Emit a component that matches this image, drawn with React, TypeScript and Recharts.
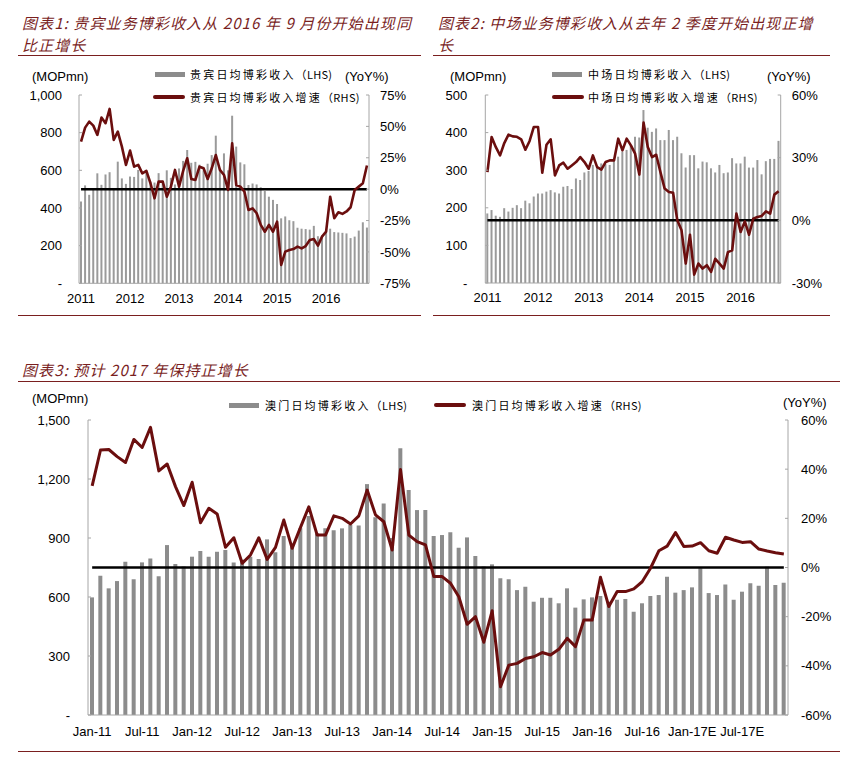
import React from 'react';
import { ComposedChart, Bar, Line, XAxis, YAxis, ReferenceLine } from 'recharts';

const MAROON = '#6b0e0e';
const AXIS_GREY = '#a6a6a6';
const TITLE_RED = '#7a1f1f';
const NUM_FONT = "'Liberation Sans', Arial, sans-serif";
const CJK_FONT = "'Noto Sans CJK SC', sans-serif";

const MON = ['Jan', 'Feb', 'Mar', 'Apr', 'May', 'Jun', 'Jul', 'Aug', 'Sep', 'Oct', 'Nov', 'Dec'];
function monthLabels(count: number) {
  const out: string[] = [];
  for (let i = 0; i < count; i++) {
    const yr = 11 + Math.floor(i / 12);
    out.push(`${MON[i % 12]}-${yr}${yr >= 17 ? 'E' : ''}`);
  }
  return out;
}

// chart 1: VIP daily GGR (MOP mn) and YoY %
const vipMonths = monthLabels(71);
const vipYears = ['2011', '2012', '2013', '2014', '2015', '2016'];
const vipRevenue = [
  434, 520, 470, 505, 584, 523, 578, 590, 505, 646, 557, 528,
  567, 565, 602, 557, 598, 540, 535, 585, 545, 600, 560, 525,
  610, 650, 708, 640, 645, 630, 600, 635, 681, 784, 610, 690,
  600, 890, 726, 642, 632, 522, 530, 525, 510, 490, 460, 443,
  421, 345, 355, 335, 330, 295, 290, 288, 285, 305, 250, 255,
  280, 290, 272, 270, 268, 265, 240, 248, 280, 324, 296,
];
const vipGrowth = [
  37.9, 49, 53.8, 50.6, 43.2, 57, 52.5, 63.9, 39.2, 45.8, 33.9, 19.3,
  30.7, 17.9, 19.3, 12.6, 14.6, 4.7, -7.3, 6, 6, -6, 2, 15.3,
  2, 14.6, 24.6, 8.1, 7.3, 17.9, 16.6, 8.1, 16.6, 27.2, 15.3, 11.3,
  -0.6, 36.5, 3.3, 2, -2, -16.6, -15.3, -19.2, -28.5, -33.9, -28.5, -33.9,
  -25.9, -60.4, -49.8, -48.5, -47.7, -45.8, -47.2, -45.3, -40.5, -39.7, -45, -37.8,
  -33.9, -6, -23.2, -18.4, -19.7, -17.8, -14.4, -0.6, 2, 4.7, 18.8,
];

// chart 2: mass market daily GGR
const massMonths = monthLabels(70);
const massRevenue = [
  185, 194, 179, 176, 199, 190, 200, 207, 199, 219, 212, 230,
  238, 238, 243, 247, 241, 238, 256, 258, 250, 278, 274, 294,
  298, 314, 311, 318, 316, 314, 327, 336, 349, 354, 367, 389,
  387, 460, 413, 402, 411, 380, 380, 407, 380, 389, 345, 307,
  340, 340, 305, 323, 321, 305, 294, 314, 292, 294, 332, 318,
  318, 336, 307, 307, 327, 289, 324, 330, 330, 378,
];
const massGrowth = [
  23.1, 39.9, 35, 31.1, 37, 41.0, 40.2, 40, 38.8, 33.8, 38, 44.7,
  44.7, 22.8, 36.2, 38.8, 21.5, 26.3, 27.6, 24.7, 26.3, 27.9, 30.3, 27.9,
  24.7, 31.1, 25.5, 24.3, 27.9, 28.7, 28.7, 39.1, 33.5, 39.1, 35.9, 31.9,
  21.9, 46.8, 35.1, 30.3, 31.4, 23.1, 15.2, 13.6, 13.2, 0, -4.8, -20.7,
  -6.9, -26.0, -20.7, -23.1, -21.5, -24.7, -18.4, -20.7, -23.1, -15.2, -14.4, 3.2,
  -5.6, -0.5, -6.9, 0.8, 1.6, 2.1, 4.3, 3.2, 12.3, 13.9,
];

// chart 3: Macau daily GGR with 2017 forecast
const macauMonths = monthLabels(84);
const macauTicks = [
  'Jan-11', 'Jul-11', 'Jan-12', 'Jul-12', 'Jan-13', 'Jul-13', 'Jan-14',
  'Jul-14', 'Jan-15', 'Jul-15', 'Jan-16', 'Jul-16', 'Jan-17E', 'Jul-17E',
];
const macauRevenue = [
  598, 708, 644, 681, 779, 690, 776, 796, 706, 864, 768, 755,
  805, 834, 805, 830, 839, 775, 790, 805, 793, 893, 827, 910,
  864, 950, 1012, 924, 949, 940, 949, 966, 963, 1174, 1005, 1076,
  900, 1356, 1144, 1042, 1042, 910, 915, 929, 851, 903, 808, 755,
  766, 695, 690, 635, 652, 576, 596, 596, 568, 644, 546, 588,
  598, 605, 576, 586, 590, 525, 568, 605, 610, 703, 622, 635,
  649, 746, 620, 610, 664, 586, 627, 670, 657, 754, 661, 673,
];
const macauGrowth = [
  33.2, 47.8, 48.0, 45.1, 42.7, 52.1, 48.8, 57.0, 39.3, 42.1, 32.9, 25.2,
  34.7, 18.2, 24.1, 21.8, 8.2, 12.1, 1.7, 5.1, 12.1, 3.3, 8.2, 19.3,
  7.8, 16.3, 24.7, 13.2, 13.2, 21.0, 20.0, 17.7, 21.0, 31.5, 21.4, 18.6,
  7.1, 39.9, 13.2, 10.5, 9.2, -3.7, -3.7, -6.4, -11.9, -23.1, -20.0, -30.4,
  -17.6, -48.5, -39.7, -39.0, -37.0, -36.3, -34.6, -35.6, -33.3, -28.8, -32.2, -21.4,
  -21.4, -4.0, -15.9, -9.8, -9.8, -8.7, -5.8, -0.3, 6.8, 8.7, 14.2, 8.5,
  8.7, 10.1, 6.8, 5.8, 12.3, 11.2, 10.2, 10.5, 7.5, 6.7, 6.0, 5.5,
];

const fmtLeft = (v: number) => (v === 0 ? '-' : v.toLocaleString('en-US'));
const fmtPct = (v: number) => `${v}%`;

type PanelProps = {
  left: number;
  top: number;
  width: number;
  height: number;
  margin: { top: number; right: number; bottom: number; left: number };
  leftWidth: number;
  rightWidth: number;
  months: string[];
  revenue: number[];
  growth: number[];
  leftDomain: [number, number];
  leftTicks: number[];
  rightDomain: [number, number];
  rightTicks: number[];
  xLabels: string[];
  labelEvery: number;
  labelDy: number;
  barSize: number;
  barColor: string;
  lineWidth: number;
  leftMargin: number;
  rightMargin: number;
};

function Panel(p: PanelProps) {
  const data = p.months.map((m, i) => ({ month: m, rev: p.revenue[i], yoy: p.growth[i] }));
  const first = p.months[0];
  const last = p.months[p.months.length - 1];
  const tickStyle = { fontSize: 13, fontFamily: NUM_FONT, fill: '#000' };
  return (
    <div style={{ position: 'absolute', left: p.left, top: p.top }}>
      <ComposedChart width={p.width} height={p.height} data={data} margin={p.margin}>
        <XAxis
          dataKey="month"
          interval={0}
          height={20}
          tickSize={0}
          tickMargin={0}
          tickLine={false}
          axisLine={{ stroke: AXIS_GREY }}
          tick={(t: any) =>
            t.index % p.labelEvery === 0 ? (
              <text x={t.x} y={t.y + p.labelDy} textAnchor="middle" {...tickStyle}>
                {p.xLabels[t.index / p.labelEvery]}
              </text>
            ) : (
              <g />
            )
          }
        />
        <YAxis
          yAxisId="l"
          orientation="left"
          width={p.leftWidth}
          domain={p.leftDomain}
          ticks={p.leftTicks}
          interval={0}
          tickFormatter={fmtLeft}
          tickSize={-3}
          tickMargin={p.leftMargin}
          tickLine={{ stroke: AXIS_GREY }}
          axisLine={{ stroke: AXIS_GREY }}
          tick={tickStyle}
        />
        <YAxis
          yAxisId="r"
          orientation="right"
          width={p.rightWidth}
          domain={p.rightDomain}
          ticks={p.rightTicks}
          interval={0}
          tickFormatter={fmtPct}
          tickSize={-3}
          tickMargin={p.rightMargin}
          tickLine={{ stroke: AXIS_GREY }}
          axisLine={{ stroke: AXIS_GREY }}
          tick={{ ...tickStyle, textAnchor: 'start' }}
        />
        <Bar yAxisId="l" dataKey="rev" fill={p.barColor} barSize={p.barSize} isAnimationActive={false} />
        <ReferenceLine
          yAxisId="r"
          segment={[{ x: first, y: 0 }, { x: last, y: 0 }]}
          stroke="#000"
          strokeWidth={2.5}
        />
        <Line
          yAxisId="r"
          type="linear"
          dataKey="yoy"
          stroke={MAROON}
          strokeWidth={p.lineWidth}
          strokeLinejoin="round"
          dot={false}
          activeDot={false}
          isAnimationActive={false}
        />
      </ComposedChart>
    </div>
  );
}

function Title({ x, y, lines }: { x: number; y: number; lines: string[] }) {
  return (
    <div
      style={{
        position: 'absolute',
        left: x,
        top: y,
        fontFamily: CJK_FONT,
        fontStyle: 'italic',
        fontSize: 15,
        letterSpacing: 1.1,
        lineHeight: '22px',
        color: TITLE_RED,
        whiteSpace: 'nowrap',
      }}
    >
      {lines.map((l) => (
        <div key={l}>{l}</div>
      ))}
    </div>
  );
}

function Rule({ x, y, w }: { x: number; y: number; w: number }) {
  return <div style={{ position: 'absolute', left: x, top: y, width: w, height: 0, borderTop: `1px solid ${TITLE_RED}` }} />;
}

function Unit({ x, cy, text }: { x: number; cy: number; text: string }) {
  return (
    <div style={{ position: 'absolute', left: x, top: cy - 8, fontFamily: NUM_FONT, fontSize: 13, lineHeight: '16px', color: '#000', whiteSpace: 'nowrap' }}>
      {text}
    </div>
  );
}

function LegendItem({ x, cy, kind, name, tag, gap }: { x: number; cy: number; kind: 'bar' | 'line'; name: string; tag: string; gap: number }) {
  const swatch =
    kind === 'bar' ? (
      <div style={{ width: 30, height: 5, background: '#8c8c8c' }} />
    ) : (
      <div style={{ width: 32, height: 4, background: MAROON, borderRadius: 2 }} />
    );
  return (
    <div style={{ position: 'absolute', left: x, top: cy - 8, height: 16, display: 'flex', alignItems: 'center', whiteSpace: 'nowrap' }}>
      {swatch}
      <span style={{ marginLeft: gap, fontFamily: CJK_FONT, fontSize: 11, color: '#000', lineHeight: '16px' }}>
        <span style={{ letterSpacing: 2.2 }}>{name}</span>
        <span style={{ letterSpacing: 0.3 }}>{tag}</span>
      </span>
    </div>
  );
}

export default function App() {
  return (
    <div style={{ position: 'absolute', left: 0, top: 0, width: 865, height: 774, background: '#fff', overflow: 'hidden' }}>
      <Panel
        left={20}
        top={80}
        width={402}
        height={230}
        margin={{ top: 15, right: 12, bottom: 6.7, left: 9 }}
        leftWidth={50}
        rightWidth={41}
        months={vipMonths}
        revenue={vipRevenue}
        growth={vipGrowth}
        leftDomain={[0, 1000]}
        leftTicks={[0, 200, 400, 600, 800, 1000]}
        rightDomain={[-75, 75]}
        rightTicks={[-75, -50, -25, 0, 25, 50, 75]}
        xLabels={vipYears}
        labelEvery={12}
        labelDy={19.5}
        barSize={2}
        barColor="#9a9a9a"
        lineWidth={2.6}
        leftMargin={20}
        rightMargin={14}
      />
      <Panel
        left={430}
        top={80}
        width={402}
        height={230}
        margin={{ top: 15, right: 12, bottom: 7, left: 5.3 }}
        leftWidth={50}
        rightWidth={39.3}
        months={massMonths}
        revenue={massRevenue}
        growth={massGrowth}
        leftDomain={[0, 500]}
        leftTicks={[0, 100, 200, 300, 400, 500]}
        rightDomain={[-30, 60]}
        rightTicks={[-30, 0, 30, 60]}
        xLabels={vipYears}
        labelEvery={12}
        labelDy={19.2}
        barSize={2}
        barColor="#9a9a9a"
        lineWidth={2.6}
        leftMargin={21}
        rightMargin={14}
      />
      <Panel
        left={20}
        top={400}
        width={830}
        height={340}
        margin={{ top: 20, right: 20, bottom: 5, left: 8 }}
        leftWidth={60}
        rightWidth={42}
        months={macauMonths}
        revenue={macauRevenue}
        growth={macauGrowth}
        leftDomain={[0, 1500]}
        leftTicks={[0, 300, 600, 900, 1200, 1500]}
        rightDomain={[-60, 60]}
        rightTicks={[-60, -40, -20, 0, 20, 40, 60]}
        xLabels={macauTicks}
        labelEvery={6}
        labelDy={20.7}
        barSize={4}
        barColor="#8c8c8c"
        lineWidth={3}
        leftMargin={21}
        rightMargin={16}
      />

      <Title x={22} y={12} lines={['图表1: 贵宾业务博彩收入从 2016 年 9 月份开始出现同', '比正增长']} />
      <Title x={438} y={12} lines={['图表2:  中场业务博彩收入从去年 2 季度开始出现正增', '长']} />
      <Title x={22} y={359} lines={['图表3:  预计 2017 年保持正增长']} />

      <Rule x={18} y={55} w={403} />
      <Rule x={433} y={55} w={397} />
      <Rule x={18} y={315} w={403} />
      <Rule x={433} y={315} w={397} />
      <Rule x={18} y={381} w={822} />
      <Rule x={18} y={751} w={822} />

      <Unit x={32} cy={77} text="(MOPmn)" />
      <Unit x={345} cy={77} text="(YoY%)" />
      <Unit x={450} cy={77} text="(MOPmn)" />
      <Unit x={767} cy={77} text="(YoY%)" />
      <Unit x={32} cy={399} text="(MOPmn)" />
      <Unit x={783} cy={403} text="(YoY%)" />

      <LegendItem x={155} cy={74} kind="bar" name="贵宾日均博彩收入" tag="（LHS)" gap={5} />
      <LegendItem x={153} cy={97} kind="line" name="贵宾日均博彩收入增速" tag="（RHS)" gap={5} />
      <LegendItem x={552} cy={74} kind="bar" name="中场日均博彩收入" tag="（LHS)" gap={6} />
      <LegendItem x={552} cy={97} kind="line" name="中场日均博彩收入增速" tag="（RHS)" gap={4} />
      <LegendItem x={229} cy={405} kind="bar" name="澳门日均博彩收入" tag="（LHS)" gap={6} />
      <LegendItem x={434} cy={405} kind="line" name="澳门日均博彩收入增速" tag="（RHS)" gap={6} />
    </div>
  );
}
